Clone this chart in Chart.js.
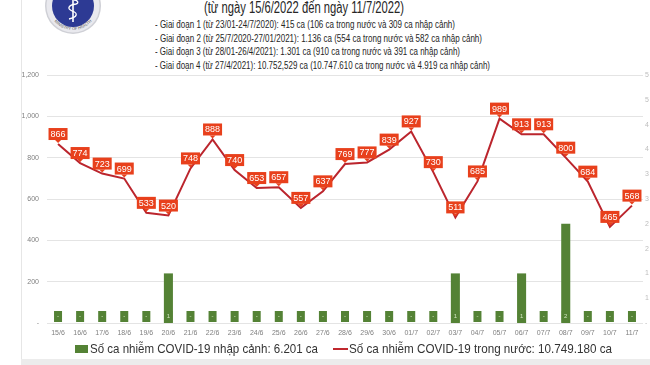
<!DOCTYPE html>
<html lang="vi">
<head>
<meta charset="UTF-8">
<title>COVID-19 15/6 - 11/7/2022</title>
<script src="https://cdn.jsdelivr.net/npm/chart.js@4.4.0/dist/chart.umd.min.js"></script>
<style>
  html, body { margin: 0; padding: 0; width: 650px; height: 365px; overflow: hidden; background: #fff; font-family: "Liberation Sans", Arial, sans-serif; }
  #frame { position: absolute; left: 21px; top: 0; width: 1px; height: 359px; background: #e6e6e6; }
  #band { position: absolute; left: 21px; top: 359px; width: 640px; height: 6px; background: #ececec; }
  .fit { position: absolute; white-space: nowrap; transform-origin: 0 50%; color: #262626; line-height: 1; }
  #title { left: 204px; top: 0px; font-size: 16px; }
  .step { left: 155px; font-size: 11.5px; }
  #wrap { position: absolute; left: 0; top: 60px; width: 660px; height: 285px; }
  #logo { position: absolute; left: 43px; top: 0; }
  .swatch { position: absolute; }
</style>
</head>
<body>
  <div id="frame"></div>
  <div id="band"></div>

  <svg id="logo" width="60" height="40" viewBox="0 0 60 40">
    <defs><path id="arc" d="M 6 6 A 24 24 0 0 0 54 6" /></defs>
    <circle cx="30" cy="6" r="28" fill="#cfd0d6" />
    <circle cx="30" cy="6" r="26.5" fill="#e9e9ee" />
    <circle cx="30" cy="6" r="21" fill="#2d3a94" />
    <text font-size="4" fill="#555" font-family="Liberation Sans"><textPath href="#arc" startOffset="50%" text-anchor="middle">MINISTRY OF HEALTH</textPath></text>
    <line x1="30" y1="-4" x2="30" y2="22" stroke="#fff" stroke-width="1.6" />
    <path d="M 26 19 C 35 17, 35 13, 29 11 C 24 9, 25 5, 33 4 C 36 3.5, 35 0, 31 0" stroke="#fff" stroke-width="1.3" fill="none" />
  </svg>

  <div id="title" class="fit" data-w="200">(từ ngày 15/6/2022 đến ngày 11/7/2022)</div>
  <div class="fit step" data-w="300" style="top:19px">- Giai đoạn 1 (từ 23/01-24/7/2020): 415 ca (106 ca trong nước và 309 ca nhập cảnh)</div>
  <div class="fit step" data-w="327" style="top:32.5px">- Giai đoạn 2 (từ 25/7/2020-27/01/2021): 1.136 ca (554 ca trong nước và 582 ca nhập cảnh)</div>
  <div class="fit step" data-w="305" style="top:46px">- Giai đoạn 3 (từ 28/01-26/4/2021): 1.301 ca (910 ca trong nước và 391 ca nhập cảnh)</div>
  <div class="fit step" data-w="335" style="top:59.5px">- Giai đoạn 4 (từ 27/4/2021): 10.752,529 ca (10.747.610 ca trong nước và 4.919 ca nhập cảnh)</div>

  <div id="wrap"><canvas id="chart" width="660" height="285"></canvas></div>

  <div class="swatch" style="left:75px;top:345px;width:13px;height:8px;background:#548235"></div>
  <div class="fit" data-w="228" style="left:90px;top:342px;font-size:13px;color:#333">Số ca nhiễm COVID-19 nhập cảnh: 6.201 ca</div>
  <div class="swatch" style="left:333px;top:348px;width:15px;height:2px;background:#c0282e"></div>
  <div class="fit" data-w="263" style="left:349px;top:342px;font-size:13px;color:#333">Số ca nhiễm COVID-19 trong nước: 10.749.180 ca</div>

  <script>
    const days = ['15/6', '16/6', '17/6', '18/6', '19/6', '20/6', '21/6', '22/6', '23/6', '24/6', '25/6', '26/6', '27/6',
      '28/6', '29/6', '30/6', '01/7', '02/7', '03/7', '04/7', '05/7', '06/7', '07/7', '08/7', '09/7', '10/7', '11/7'];
    const domestic = [866, 774, 723, 699, 533, 520, 748, 888, 740, 653, 657, 557, 637,
      769, 777, 839, 927, 730, 511, 685, 989, 913, 913, 800, 684, 465, 568];
    const imported = [0, 0, 0, 0, 0, 1, 0, 0, 0, 0, 0, 0, 0,
      0, 0, 0, 0, 0, 1, 0, 0, 1, 0, 2, 0, 0, 0];
    const leftMax = 1200, leftStep = 200;
    const rightMax = 5, rightStep = 0.5;

    const barColor = '#548235';
    const lineColor = '#bb252d';
    const boxColor = '#e8401c';

    // squeeze the header / legend text to the width it has in the picture
    document.querySelectorAll('.fit').forEach(el => {
      const w = el.getBoundingClientRect().width;
      el.style.transform = 'scaleX(' + (el.dataset.w / w) + ')';
    });

    // labels: green boxes at the bar base, red callouts above line points
    const valueLabels = {
      id: 'valueLabels',
      afterDatasetsDraw(chart) {
        const ctx = chart.ctx;
        const base = chart.scales.y1.getPixelForValue(0);
        ctx.save();
        ctx.textAlign = 'center';
        ctx.textBaseline = 'middle';

        ctx.font = '6px "Liberation Sans"';
        chart.getDatasetMeta(0).data.forEach((bar, i) => {
          ctx.fillStyle = barColor;
          ctx.fillRect(bar.x - 4, base - 12, 8, 11);
          ctx.fillStyle = '#d4e6c2';
          ctx.fillText(imported[i] === 0 ? '-' : String(imported[i]), bar.x, base - 6.5);
        });

        ctx.font = '9px "Liberation Sans"';
        chart.getDatasetMeta(1).data.forEach((pt, i) => {
          const txt = String(domestic[i]);
          const w = ctx.measureText(txt).width + 4, h = 12, cy = pt.y - 10;
          ctx.fillStyle = boxColor;
          ctx.beginPath();
          ctx.moveTo(pt.x - 3, cy + h / 2);
          ctx.lineTo(pt.x, pt.y - 1);
          ctx.lineTo(pt.x + 3, cy + h / 2);
          ctx.fill();
          ctx.fillRect(pt.x - w / 2, cy - h / 2, w, h);
          ctx.fillStyle = '#fff';
          ctx.fillText(txt, pt.x, cy + 0.5);
        });
        ctx.restore();
      }
    };

    new Chart(document.getElementById('chart'), {
      data: {
        labels: days,
        datasets: [{
          type: 'bar',
          data: imported,
          yAxisID: 'y1',
          backgroundColor: barColor,
          barPercentage: 0.41,
          categoryPercentage: 1,
          order: 1
        }, {
          type: 'line',
          data: domestic,
          yAxisID: 'y',
          borderColor: lineColor,
          borderWidth: 2,
          pointRadius: 0,
          tension: 0,
          order: 0
        }]
      },
      options: {
        responsive: false,
        animation: false,
        devicePixelRatio: 1,
        layout: { padding: { top: 15, left: 0, right: 0, bottom: 0 } },
        plugins: { legend: { display: false }, tooltip: { enabled: false } },
        scales: {
          x: {
            grid: { display: false, drawTicks: false },
            border: { display: false },
            ticks: { font: { size: 7 }, color: '#808080', padding: 6, maxRotation: 0, autoSkip: false },
            afterFit(s) { s.height = 22; }
          },
          y: {
            position: 'left',
            min: 0, max: leftMax,
            grid: { color: '#e4e4e4', drawTicks: false },
            border: { display: false },
            ticks: {
              stepSize: leftStep, font: { size: 7 }, color: '#808080', padding: 8,
              callback: v => v === 0 ? '-' : v.toLocaleString('en-US')
            },
            afterFit(s) { s.width = 47; }
          },
          y1: {
            position: 'right',
            min: 0, max: rightMax,
            grid: { display: false, drawTicks: false },
            border: { display: false },
            ticks: {
              stepSize: rightStep, font: { size: 7 }, color: '#bdbdbd', padding: 2,
              callback: v => v === 0 ? '-' : String(Math.round(v))
            },
            afterFit(s) { s.width = 17; }
          }
        }
      },
      plugins: [valueLabels]
    });
  </script>
</body>
</html>
